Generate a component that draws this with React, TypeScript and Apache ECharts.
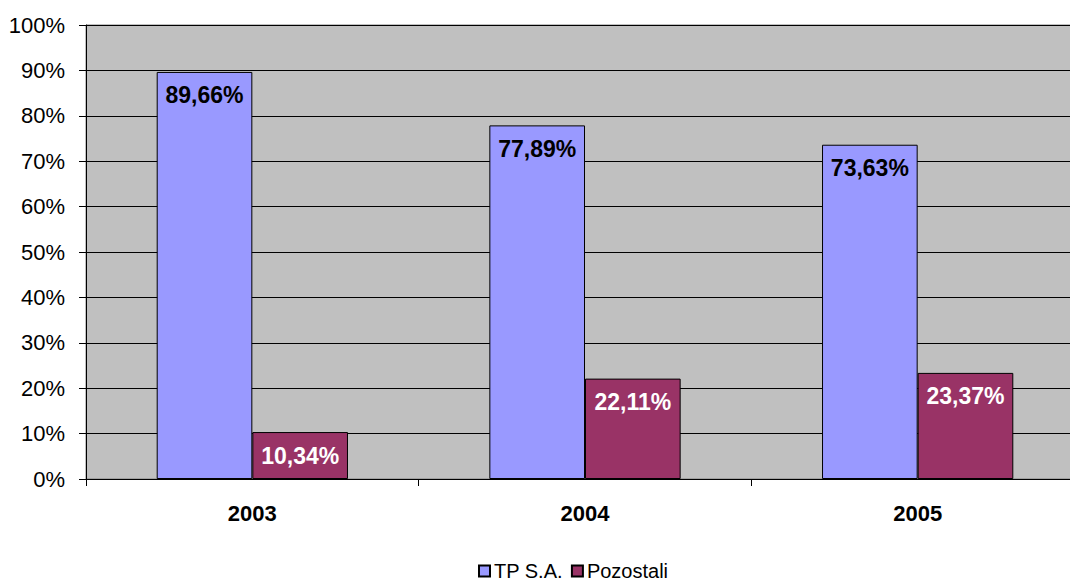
import React, { useEffect, useRef } from "react";
import * as echarts from "echarts";

const categories = ["2003", "2004", "2005"];
const tpValues = [89.66, 77.89, 73.63];
const otherValues = [10.34, 22.11, 23.37];
const seriesNames = ["TP S.A.", "Pozostali"];

const fmt = (v: number) => v.toFixed(2).replace(".", ",") + "%";

export default function App() {
  const ref = useRef<HTMLDivElement>(null);
  useEffect(() => {
    if (!ref.current) return;
    const chart = echarts.init(ref.current, null, { renderer: "svg" });
    const font = "Arial, 'Liberation Sans', sans-serif";
    chart.setOption({
      animation: false,
      backgroundColor: "#ffffff",
      textStyle: { fontFamily: font },
      grid: {
        left: 86,
        right: 0,
        top: 25,
        bottom: 103,
        show: true,
        backgroundColor: "#c0c0c0",
        borderColor: "#808080",
        borderWidth: 1,
      },
      legend: {
        top: 561,
        left: 478,
        padding: 0,
        itemWidth: 11,
        itemHeight: 11,
        itemGap: 8,
        icon: "rect",
        textStyle: { fontSize: 20, color: "#000", fontFamily: font, padding: [0, 0, 0, -1] },
        data: seriesNames,
      },
      xAxis: {
        type: "category",
        data: categories,
        axisLine: { show: true, lineStyle: { color: "#000", width: 1 } },
        axisTick: { show: true, length: 7, alignWithLabel: false, lineStyle: { color: "#000" } },
        axisLabel: { fontSize: 22, fontWeight: "bold", color: "#000", margin: 23, fontFamily: font },
        splitLine: { show: false },
      },
      yAxis: {
        type: "value",
        min: 0,
        max: 100,
        interval: 10,
        axisLine: { show: true, lineStyle: { color: "#000", width: 1 } },
        axisTick: { show: true, length: 7, lineStyle: { color: "#000" } },
        axisLabel: {
          fontSize: 22,
          color: "#000",
          margin: 21,
          fontFamily: font,
          formatter: (v: number) => v + "%",
        },
        splitLine: { show: true, lineStyle: { color: "#000", width: 1 } },
      },
      series: [
        {
          name: seriesNames[0],
          type: "bar",
          data: tpValues,
          barGap: "0%",
          barCategoryGap: "42.5%",
          itemStyle: { color: "#9999ff", borderColor: "#000", borderWidth: 1 },
          label: {
            show: true,
            position: "insideTop",
            distance: 12,
            formatter: (p: any) => fmt(p.value),
            color: "#000",
            fontSize: 23,
            fontWeight: "bold",
            fontFamily: font,
          },
        },
        {
          name: seriesNames[1],
          type: "bar",
          data: otherValues,
          barGap: "0%",
          barCategoryGap: "42.5%",
          itemStyle: { color: "#993366", borderColor: "#000", borderWidth: 1 },
          label: {
            show: true,
            position: "insideTop",
            distance: 12,
            formatter: (p: any) => fmt(p.value),
            color: "#fff",
            fontSize: 23,
            fontWeight: "bold",
            fontFamily: font,
          },
        },
      ],
    });
    return () => chart.dispose();
  }, []);
  return (
    <div
      ref={ref}
      style={{ position: "fixed", left: 0, top: 0, width: 1084, height: 582 }}
    />
  );
}
